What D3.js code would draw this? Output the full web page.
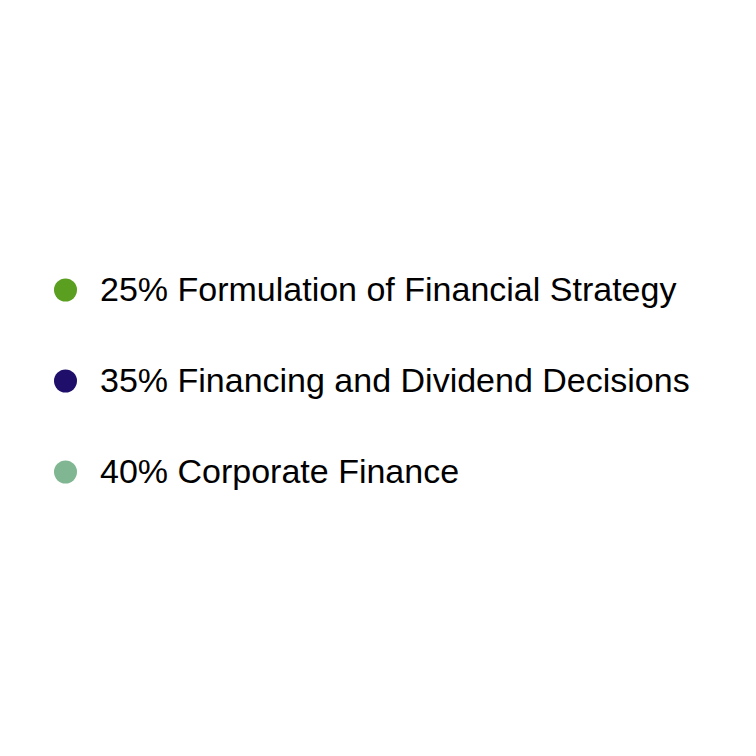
<!DOCTYPE html>
<html><head><meta charset="utf-8">
<script src="https://cdn.jsdelivr.net/npm/d3@7"></script>
<style>html,body{margin:0;padding:0;background:#fff;}</style>
</head><body>
<svg id="chart" width="756" height="756"></svg>
<script>
const categories = ["Formulation of Financial Strategy", "Financing and Dividend Decisions", "Corporate Finance"];
const values = [25, 35, 40];
const colors = ["#5a9f1f", "#1f0f6b", "#80b792"];

const svg = d3.select("#chart");
const y = d3.scalePoint().domain(categories).range([290, 472]);
const color = d3.scaleOrdinal().domain(categories).range(colors);

const g = svg.selectAll("g.item").data(categories).join("g")
  .attr("class", "item")
  .attr("transform", d => `translate(0,${y(d)})`);

g.append("circle").attr("cx", 65.5).attr("cy", 0).attr("r", 11.5)
  .attr("fill", d => color(d));

g.append("text").attr("x", 100).attr("y", 11)
  .attr("font-family", "Liberation Sans, Arial, sans-serif")
  .attr("font-size", 34).attr("fill", "#000")
  .text((d, i) => `${values[i]}% ${d}`);
</script>
</body></html>
